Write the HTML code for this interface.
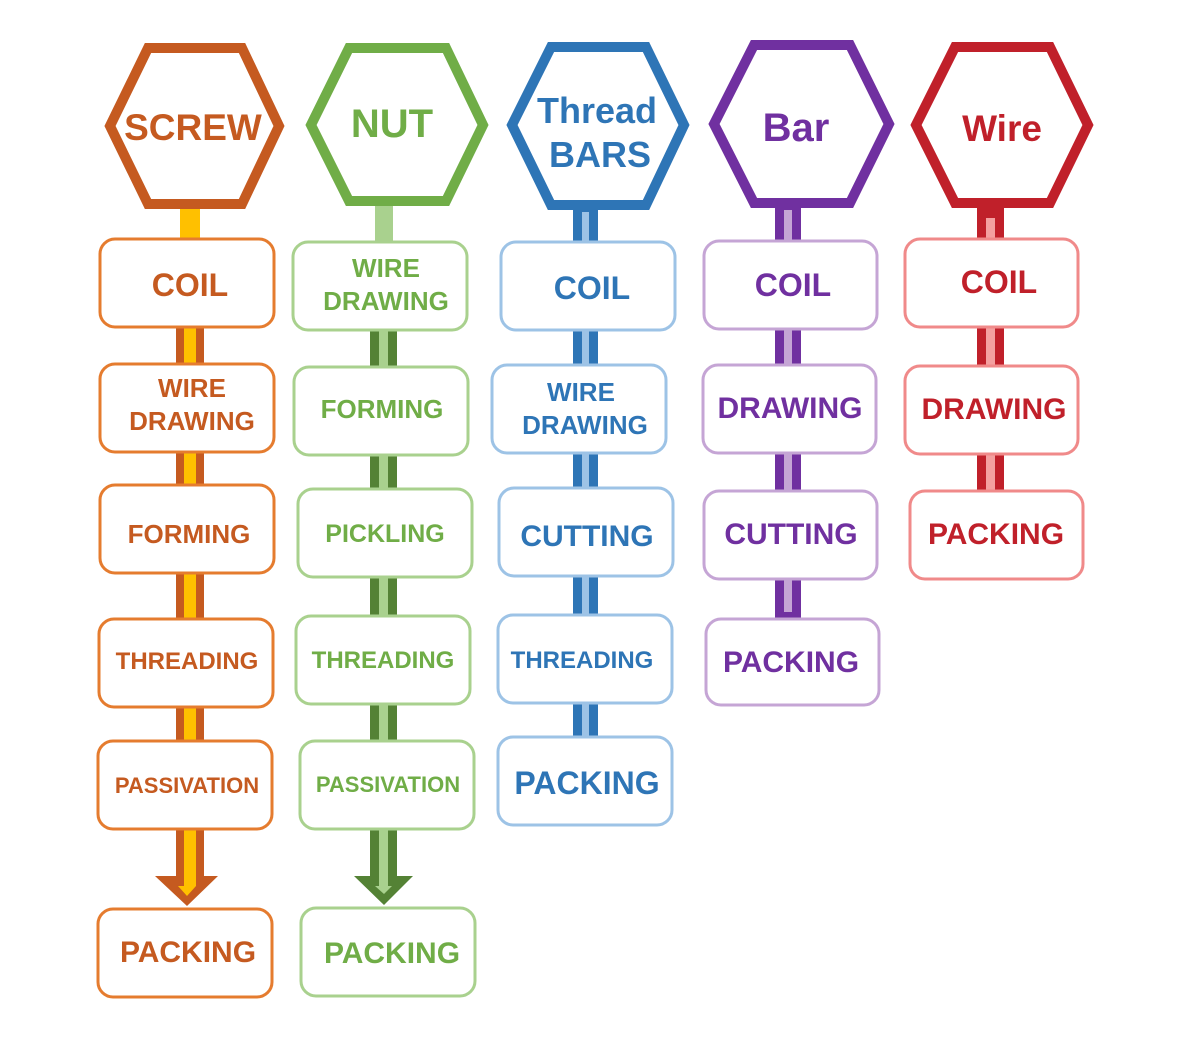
<html><body style="margin:0;background:#fff">
<svg width="1200" height="1043" viewBox="0 0 1200 1043" xmlns="http://www.w3.org/2000/svg" font-family="Liberation Sans, sans-serif" font-weight="bold" text-anchor="middle">
<rect width="1200" height="1043" fill="#fff"/>
<!-- connectors col1 -->
<rect x="180" y="205" width="20" height="36" fill="#FFC000"/>
<g fill="#C55A20"><rect x="176" y="326" width="28" height="40"/><rect x="176" y="451" width="28" height="36"/><rect x="176" y="572" width="28" height="48"/><rect x="176" y="706" width="28" height="36"/><rect x="176" y="828" width="28" height="50"/><polygon points="155,876 218,876 187,906"/></g>
<g fill="#FFC000"><rect x="184" y="326" width="12" height="40"/><rect x="184" y="451" width="12" height="36"/><rect x="184" y="572" width="12" height="48"/><rect x="184" y="706" width="12" height="36"/><rect x="184" y="828" width="12" height="58"/><polygon points="178,886 196,886 187,896"/></g>
<!-- col2 -->
<rect x="375" y="203" width="18" height="40" fill="#A9D18E"/>
<g fill="#548235"><rect x="370" y="329" width="27" height="40"/><rect x="370" y="454" width="27" height="36"/><rect x="370" y="576" width="27" height="41"/><rect x="370" y="703" width="27" height="39"/><rect x="370" y="828" width="27" height="50"/><polygon points="354,876 413,876 384,905"/></g>
<g fill="#A9D18E"><rect x="379" y="329" width="9" height="40"/><rect x="379" y="454" width="9" height="36"/><rect x="379" y="576" width="9" height="41"/><rect x="379" y="703" width="9" height="39"/><rect x="379" y="828" width="9" height="58"/><polygon points="375,886 392,886 384,894"/></g>
<!-- col3 -->
<g fill="#2E75B6"><rect x="573" y="206" width="25" height="37"/><rect x="573" y="329" width="25" height="37"/><rect x="573" y="452" width="25" height="37"/><rect x="573" y="575" width="25" height="41"/><rect x="573" y="702" width="25" height="36"/></g>
<g fill="#9DC3E6"><rect x="582" y="212" width="7" height="31"/><rect x="582" y="329" width="7" height="37"/><rect x="582" y="452" width="7" height="37"/><rect x="582" y="575" width="7" height="41"/><rect x="582" y="702" width="7" height="36"/></g>
<!-- col4 -->
<g fill="#7030A0"><rect x="775" y="205" width="26" height="37"/><rect x="775" y="328" width="26" height="38"/><rect x="775" y="452" width="26" height="40"/><rect x="775" y="578" width="26" height="42"/></g>
<g fill="#C5A5D5"><rect x="784" y="210" width="8" height="32"/><rect x="784" y="328" width="8" height="38"/><rect x="784" y="452" width="8" height="40"/><rect x="784" y="578" width="8" height="34"/></g>
<!-- col5 -->
<g fill="#C0202A"><rect x="977" y="205" width="27" height="35"/><rect x="977" y="326" width="27" height="41"/><rect x="977" y="453" width="27" height="39"/></g>
<g fill="#F4A0A0"><rect x="986" y="218" width="9" height="22"/><rect x="986" y="326" width="9" height="41"/><rect x="986" y="453" width="9" height="39"/></g>
<!-- hexagons -->
<g fill="#fff" stroke-width="10" stroke-linejoin="miter">
<polygon points="110,126 148,48 242,48 279,126 242,204 148,204" stroke="#C55A20"/>
<polygon points="311,125 349,48 446,48 483,125 446,201 349,201" stroke="#70AD47"/>
<polygon points="512,125 551,47 646,47 684,125 646,205 551,205" stroke="#2E75B6"/>
<polygon points="714,124 754,45 850,45 889,124 850,203 754,203" stroke="#7030A0"/>
<polygon points="916,125 955,47 1050,47 1088,125 1050,203 955,203" stroke="#C0202A"/>
</g>
<text x="193" y="140" font-size="37" fill="#C55A20">SCREW</text>
<text x="392" y="137" font-size="40" fill="#70AD47">NUT</text>
<text x="597" y="123" font-size="36" fill="#2E75B6">Thread</text>
<text x="600" y="167" font-size="36" fill="#2E75B6">BARS</text>
<text x="796" y="141" font-size="40" fill="#7030A0">Bar</text>
<text x="1002" y="141" font-size="37" fill="#C0202A">Wire</text>
<!-- boxes -->
<g fill="#fff" stroke-width="3">
<g stroke="#E57C2F">
<rect x="100" y="239" width="174" height="88" rx="15"/><rect x="100" y="364" width="174" height="88" rx="15"/><rect x="100" y="485" width="174" height="88" rx="15"/><rect x="99" y="619" width="174" height="88" rx="15"/><rect x="98" y="741" width="174" height="88" rx="15"/><rect x="98" y="909" width="174" height="88" rx="15"/></g>
<g stroke="#A9D18E">
<rect x="293" y="242" width="174" height="88" rx="15"/><rect x="294" y="367" width="174" height="88" rx="15"/><rect x="298" y="489" width="174" height="88" rx="15"/><rect x="296" y="616" width="174" height="88" rx="15"/><rect x="300" y="741" width="174" height="88" rx="15"/><rect x="301" y="908" width="174" height="88" rx="15"/></g>
<g stroke="#9DC3E6">
<rect x="501" y="242" width="174" height="88" rx="15"/><rect x="492" y="365" width="174" height="88" rx="15"/><rect x="499" y="488" width="174" height="88" rx="15"/><rect x="498" y="615" width="174" height="88" rx="15"/><rect x="498" y="737" width="174" height="88" rx="15"/></g>
<g stroke="#C5A5D5">
<rect x="704" y="241" width="173" height="88" rx="15"/><rect x="703" y="365" width="173" height="88" rx="15"/><rect x="704" y="491" width="173" height="88" rx="15"/><rect x="706" y="619" width="173" height="86" rx="15"/></g>
<g stroke="#F08A8A">
<rect x="905" y="239" width="173" height="88" rx="15"/><rect x="905" y="366" width="173" height="88" rx="15"/><rect x="910" y="491" width="173" height="88" rx="15"/></g>
</g>
<g fill="#C55A20">
<text x="190" y="296" font-size="32">COIL</text>
<text x="192" y="397" font-size="26">WIRE</text><text x="192" y="430" font-size="26">DRAWING</text>
<text x="189" y="543" font-size="26">FORMING</text>
<text x="187" y="669" font-size="24">THREADING</text>
<text x="187" y="793" font-size="22">PASSIVATION</text>
<text x="188" y="962" font-size="30">PACKING</text></g>
<g fill="#70AD47">
<text x="386" y="277" font-size="26">WIRE</text><text x="386" y="310" font-size="26">DRAWING</text>
<text x="382" y="418" font-size="26">FORMING</text>
<text x="385" y="542" font-size="25">PICKLING</text>
<text x="383" y="668" font-size="24">THREADING</text>
<text x="388" y="792" font-size="22">PASSIVATION</text>
<text x="392" y="963" font-size="30">PACKING</text></g>
<g fill="#2E75B6">
<text x="592" y="299" font-size="32">COIL</text>
<text x="581" y="401" font-size="26">WIRE</text><text x="585" y="434" font-size="26">DRAWING</text>
<text x="587" y="546" font-size="30">CUTTING</text>
<text x="582" y="668" font-size="24">THREADING</text>
<text x="587" y="794" font-size="32">PACKING</text></g>
<g fill="#7030A0">
<text x="793" y="296" font-size="32">COIL</text>
<text x="790" y="418" font-size="30">DRAWING</text>
<text x="791" y="544" font-size="30">CUTTING</text>
<text x="791" y="672" font-size="30">PACKING</text></g>
<g fill="#C0202A">
<text x="999" y="293" font-size="32">COIL</text>
<text x="994" y="419" font-size="30">DRAWING</text>
<text x="996" y="544" font-size="30">PACKING</text></g>
</svg>
</body></html>
